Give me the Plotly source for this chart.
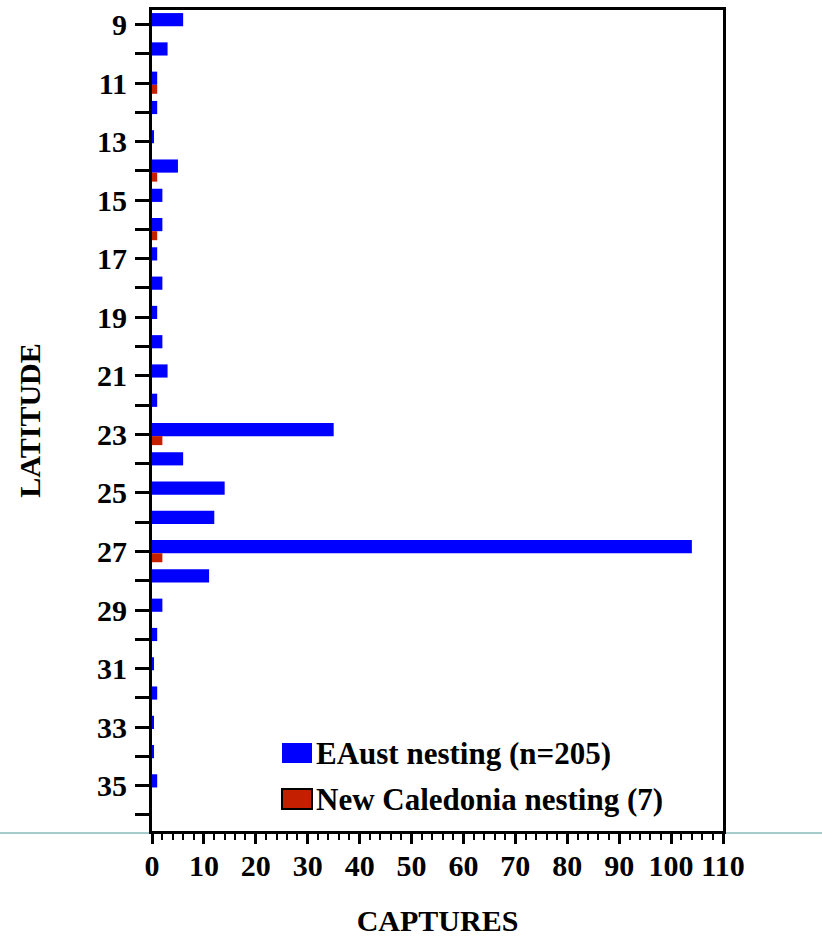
import plotly.graph_objects as go

# ---- data ----
latitudes = list(range(9, 37))
eaust_captures = [6, 3, 1, 1, 0.3, 5, 2, 2, 1, 2, 1, 2, 3, 1, 35, 6, 14, 12, 104, 11, 2, 1, 0.3, 1, 0.3, 0.3, 1, 0]
newcal_captures = [0, 0, 1, 0, 0, 1, 0, 1, 0, 0, 0, 0, 0, 0, 2, 0, 0, 0, 2, 0, 0, 0, 0, 0, 0, 0, 0, 0]
series_names = ["EAust nesting (n=205)", "New Caledonia nesting (7)"]
series_colors = ["#0000FF", "#C42000"]
lat_ticktext = [str(v) if v % 2 == 1 else "" for v in latitudes]
x_tickvals = list(range(0, 111, 10))

FONT = "Liberation Serif, Times New Roman, serif"
W, H = 822, 937
L, R, T, B = 152, 99, 10, 106
PW, PH = W - L - R, H - T - B


def px_x(px):
    return (px - L) / PW


def px_y(py):
    return (H - B - py) / PH


fig = go.Figure()
fig.add_trace(go.Bar(
    x=eaust_captures, y=latitudes, orientation="h", name=series_names[0],
    marker=dict(color=series_colors[0], line=dict(width=0)),
    width=0.45, offset=-0.39, showlegend=False))
fig.add_trace(go.Bar(
    x=newcal_captures, y=latitudes, orientation="h", name=series_names[1],
    marker=dict(color=series_colors[1], line=dict(width=0)),
    width=0.307, offset=0.06, showlegend=False))

shapes = []
annotations = []
# legend drawn manually to match large swatches
legend_rows = [(743, 763), (789, 809)]
for i, (y0, y1) in enumerate(legend_rows):
    shapes.append(dict(type="rect", xref="paper", yref="paper",
                       x0=px_x(282), x1=px_x(312), y0=px_y(y1), y1=px_y(y0),
                       fillcolor=series_colors[i],
                       line=dict(color="#000000" if i == 1 else series_colors[i], width=2 if i == 1 else 0)))
    annotations.append(dict(xref="paper", yref="paper", x=px_x(314), y=px_y((y0 + y1) / 2),
                            xanchor="left", yanchor="middle", showarrow=False,
                            text="<b>%s</b>" % series_names[i],
                            font=dict(family=FONT, size=31, color="#000000")))
# thin teal separator across the figure
shapes.append(dict(type="line", xref="paper", yref="paper",
                   x0=px_x(0), x1=px_x(W), y0=px_y(833), y1=px_y(833),
                   line=dict(color="#4A9696", width=1), layer="below"))

fig.update_layout(
    width=W, height=H,
    margin=dict(l=L, r=R, t=T, b=B, autoexpand=False),
    paper_bgcolor="white", plot_bgcolor="white",
    barmode="overlay",
    font=dict(family=FONT, color="#000000"),
    shapes=shapes, annotations=annotations,
    xaxis=dict(
        range=[0, 110], tickmode="array", tickvals=x_tickvals,
        ticktext=["<b>%d</b>" % v for v in x_tickvals],
        ticks="outside", ticklen=10, tickwidth=3, tickcolor="#000000",
        minor=dict(dtick=2, tick0=0, ticks="outside", ticklen=6, tickwidth=2, tickcolor="#000000"),
        showline=True, linewidth=3, linecolor="#000000", mirror=True,
        showgrid=False, zeroline=False,
        tickfont=dict(family=FONT, size=30, color="#000000"),
        ticklabelstandoff=-4,
        title=dict(text="<b>CAPTURES</b>", font=dict(family=FONT, size=30, color="#000000"), standoff=30),
        fixedrange=True,
    ),
    yaxis=dict(
        range=[36.547, 8.505], tickmode="array", tickvals=latitudes,
        ticktext=["<b>%s</b>" % t if t else "" for t in lat_ticktext],
        ticks="outside", ticklen=14, tickwidth=3, tickcolor="#000000",
        showline=True, linewidth=3, linecolor="#000000", mirror=True,
        showgrid=False, zeroline=False,
        tickfont=dict(family=FONT, size=30, color="#000000"),
        ticklabelstandoff=2,
        title=dict(text="<b>LATITUDE</b>", font=dict(family=FONT, size=30, color="#000000"), standoff=48),
        fixedrange=True,
    ),
)

fig.write_html("out.html", config={"displayModeBar": False},
               post_script="document.body.style.margin='0';")
